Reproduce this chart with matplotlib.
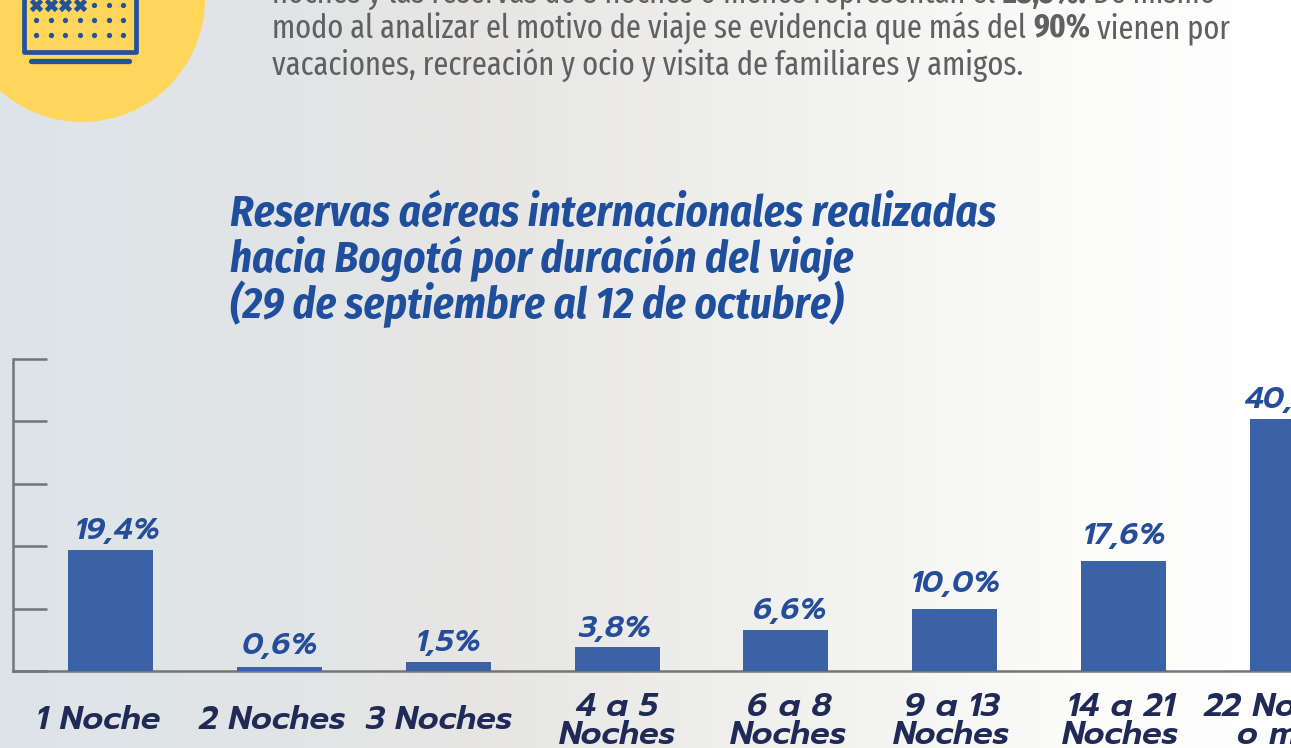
import numpy as np
import matplotlib
matplotlib.use("Agg")
import matplotlib.pyplot as plt
from matplotlib.colors import LinearSegmentedColormap
from matplotlib.patches import Circle, Rectangle

categories = ["1 Noche", "2 Noches", "3 Noches", "4 a 5\nNoches", "6 a 8\nNoches",
              "9 a 13\nNoches", "14 a 21\nNoches", "22 Noches\no más"]
values = [19.4, 0.6, 1.5, 3.8, 6.6, 10.0, 17.6, 40.4]
value_labels = ["19,4%", "0,6%", "1,5%", "3,8%", "6,6%", "10,0%", "17,6%", "40,4%"]
yticks = [0, 10, 20, 30, 40, 50]
title_lines = ["Reservas aéreas internacionales realizadas",
               "hacia Bogotá por duración del viaje",
               "(29 de septiembre al 12 de octubre)"]
# small hand placement of labels, in pixels
val_dx = [7, 0.5, 0.5, -2.5, 4.5, 1.5, 0.5, -1]
val_gap = [11, 13, 11, 10, 11, 17, 17, 11]
cat_dx = [-12, -7.5, -9.5, 0, 3, -3, -3, -6]

W, H = 1291, 748
BLUE = "#3b62a6"; LABEL = "#264d99"; DARK = "#1f2a57"; TITLE = "#1f4e9c"; GRAY = "#5f6062"; ICON = "#22529e"
AXC = "#737576"
PX = 72 / 100  # points per pixel
STEP = 168.86

fig = plt.figure(figsize=(W/100, H/100), dpi=100)
bg = fig.add_axes([0, 0, 1, 1]); bg.set_axis_off()
cmap = LinearSegmentedColormap.from_list("bg", [(0, "#dde4e8"), (0.23, "#e2e5e6"), (0.35, "#e6e5e4"),
                                                (0.62, "#f1f1f0"), (0.85, "#fcfcfb"), (1, "#ffffff")])
bg.imshow(np.linspace(0, 1, 512)[None, :], cmap=cmap, aspect="auto", extent=[0, W, H, 0])
bg.set_xlim(0, W); bg.set_ylim(H, 0)

# icon
bg.add_patch(Circle((82, -1), 123, color="#ffd55a", lw=0))
bg.add_patch(Rectangle((23.5, -10), 112.5, 62, fc="none", ec=ICON, lw=3.4, joinstyle="round"))
bg.plot([31, 129], [61, 61], color=ICON, lw=3.8, solid_capstyle="round")
cols = [36, 50.7, 65, 80, 94, 108.6, 123]
for r in [5, 20, 35]:
    for i, c in enumerate(cols):
        if r == 5 and i < 4:
            bg.plot(c, r, marker="x", color=ICON, ms=7.5, mew=3.4)
        else:
            bg.plot(c, r, marker="o", color=ICON, ms=3.8, mew=0)

# paragraph
BODY = ["Fira Sans Extra Condensed", "Liberation Sans"]
fig.canvas.draw()
rend = fig.canvas.get_renderer()
def run(x, y, parts):
    for s, w in parts:
        t = bg.text(x, y, s, family=BODY, color=GRAY, fontsize=23.8, va="baseline", fontweight=w)
        x = bg.transData.inverted().transform(t.get_window_extent(rend))[1][0]
run(272, 3, [("noches y las reservas de 8 noches o menos representan el ", "normal"), ("28,5%.", "bold"), (" De mismo", "normal")])
run(272, 38, [("modo al analizar el motivo de viaje se evidencia que más del ", "normal"), ("90%", "bold"), (" vienen por", "normal")])
run(272, 75, [("vacaciones, recreación y ocio y visita de familiares y amigos.", "normal")])

# title
for i, line in enumerate(title_lines):
    bg.text(230, 226 + 46*i, line, family=["Fira Sans Condensed", "Liberation Sans"], fontsize=30.8,
            fontweight="bold", fontstyle="italic", color=TITLE, va="baseline")

# chart
L, R, T, B = 12.5, W, 358.6, 671.1
ax = fig.add_axes([L/W, 1-B/H, (R-L)/W, (B-T)/H])
ax.patch.set_alpha(0)
x = np.arange(len(categories))
ax.bar(x, values, width=85/STEP, color=BLUE, zorder=3)
ax.set_xlim((L-110.5)/STEP, (R-110.5)/STEP)
ax.set_ylim(0, 50)
for s in ("top", "right"):
    ax.spines[s].set_visible(False)
for s in ("left", "bottom"):
    ax.spines[s].set_color(AXC); ax.spines[s].set_linewidth(1.8)
ax.set_yticks(yticks); ax.set_yticklabels([])
ax.tick_params(axis="y", direction="in", length=34*PX, width=1.8, color=AXC)
ax.yaxis.get_major_ticks()[0].tick1line.set_color("#2a2c2e")
ax.set_xticks([])
LAB = dict(family=["Prompt", "Lato"], fontstyle="italic", fontweight=600, annotation_clip=False)
for xi, v, s, dx, gap in zip(x, values, value_labels, val_dx, val_gap):
    ax.annotate(s, (xi, v), xytext=(dx*PX, gap*PX), textcoords="offset points", ha="center", va="baseline",
                color=LABEL, fontsize=22, **LAB)
for xi, s, dx in zip(x, categories, cat_dx):
    lines = s.split("\n")
    bases = [-57.5] if len(lines) == 1 else [-44.5, -73]
    for ln, b in zip(lines, bases):
        ax.annotate(ln, (xi, 0), xytext=(dx*PX, b*PX), textcoords="offset points", ha="center", va="baseline",
                    color=DARK, fontsize=23.4, **LAB)
fig.savefig("out.png", dpi=100)
